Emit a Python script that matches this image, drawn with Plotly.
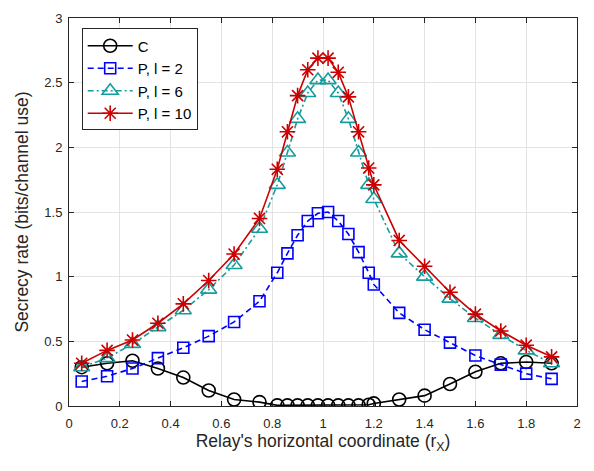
import plotly.graph_objects as go

# x grid (relay horizontal coordinate)
x_vals = [0.05, 0.15, 0.25, 0.35, 0.45, 0.55, 0.65, 0.75,
          0.82, 0.86, 0.90, 0.94, 0.98, 1.02, 1.06, 1.10, 1.14, 1.18,
          1.20, 1.30, 1.40, 1.50, 1.60, 1.70, 1.80, 1.90]

c_vals = [0.30, 0.33, 0.35, 0.29, 0.22, 0.12, 0.05, 0.03,
          0.005, 0.005, 0.005, 0.005, 0.005, 0.005, 0.005, 0.005, 0.005, 0.01,
          0.02, 0.05, 0.08, 0.17, 0.265, 0.33, 0.34, 0.33]

p2_vals = [0.19, 0.23, 0.29, 0.37, 0.45, 0.54, 0.65, 0.81,
           1.03, 1.18, 1.32, 1.43, 1.49, 1.50, 1.43, 1.33, 1.19, 1.03,
           0.94, 0.72, 0.59, 0.49, 0.39, 0.32, 0.25, 0.21]

p6_vals = [0.30, 0.37, 0.48, 0.61, 0.74, 0.90, 1.09, 1.37,
           1.71, 1.96, 2.22, 2.42, 2.52, 2.52, 2.42, 2.22, 1.96, 1.71,
           1.60, 1.18, 1.00, 0.83, 0.68, 0.55, 0.43, 0.33]

p10_vals = [0.33, 0.43, 0.51, 0.64, 0.79, 0.97, 1.175, 1.45,
            1.83, 2.12, 2.40, 2.60, 2.69, 2.69, 2.58, 2.39, 2.12, 1.84,
            1.71, 1.28, 1.08, 0.88, 0.71, 0.58, 0.47, 0.38]

series_names = ["C", "P, l = 2", "P, l = 6", "P, l = 10"]

x_ticks = [0, 0.2, 0.4, 0.6, 0.8, 1, 1.2, 1.4, 1.6, 1.8, 2]
x_tick_text = ["0", "0.2", "0.4", "0.6", "0.8", "1", "1.2", "1.4", "1.6", "1.8", "2"]
y_ticks = [0, 0.5, 1, 1.5, 2, 2.5, 3]
y_tick_text = ["0", "0.5", "1", "1.5", "2", "2.5", "3"]

FONT = "Liberation Sans, Arial, sans-serif"

fig = go.Figure()

fig.add_trace(go.Scatter(
    x=x_vals, y=c_vals, name=series_names[0], mode="lines+markers",
    line=dict(color="#000000", width=1.6),
    marker=dict(symbol="circle-open", size=13, color="#000000", line=dict(width=1.6)),
))
fig.add_trace(go.Scatter(
    x=x_vals, y=p2_vals, name=series_names[1], mode="lines+markers",
    line=dict(color="#0000ff", width=1.6, dash="6px,4px"),
    marker=dict(symbol="square-open", size=11, color="#0000ff", line=dict(width=1.6)),
))
fig.add_trace(go.Scatter(
    x=x_vals, y=p6_vals, name=series_names[2], mode="lines+markers",
    line=dict(color="#169c9c", width=1.6, dash="6px,3px,2px,3px"),
    marker=dict(symbol="triangle-up-open", size=14, color="#169c9c", line=dict(width=1.6)),
))
fig.add_trace(go.Scatter(
    x=x_vals, y=p10_vals, name=series_names[3], mode="lines+markers",
    line=dict(color="#cc0000", width=1.6),
    marker=dict(symbol="asterisk-open", size=13, color="#cc0000", line=dict(width=1.6)),
))

axis_common = dict(
    showline=True, linecolor="#262626", linewidth=1, mirror="ticks",
    ticks="inside", ticklen=5, tickcolor="#262626", tickwidth=1,
    showgrid=True, gridcolor="#e3e3e3", gridwidth=1, zeroline=False,
    automargin=False,
    tickfont=dict(family=FONT, size=13, color="#262626"),
)

fig.update_xaxes(
    range=[0, 2], tickvals=x_ticks, ticktext=x_tick_text,
    ticklabelstandoff=5,
    title=dict(text="Relay's horizontal coordinate (r<sub>X</sub>)",
               font=dict(family=FONT, size=17.5, color="#262626"),
               standoff=5),
    **axis_common,
)
fig.update_yaxes(
    range=[0, 3], tickvals=y_ticks, ticktext=y_tick_text,
    ticklabelstandoff=3,
    title=dict(text="Secrecy rate (bits/channel use)",
               font=dict(family=FONT, size=17.5, color="#262626"),
               standoff=11),
    **axis_common,
)

# page body has an 8px default margin, so the figure is sized/offset to compensate
fig.update_layout(
    width=586, height=463,
    margin=dict(l=61, r=17, t=10, b=65),
    paper_bgcolor="white", plot_bgcolor="white",
    font=dict(family=FONT, color="#000000"),
    legend=dict(
        x=0.025, y=0.973, xanchor="left", yanchor="top",
        bgcolor="white", bordercolor="#262626", borderwidth=1,
        font=dict(size=15, color="#000000"),
        itemwidth=45, tracegroupgap=0,
    ),
    showlegend=True,
)

fig.write_html("out.html")
